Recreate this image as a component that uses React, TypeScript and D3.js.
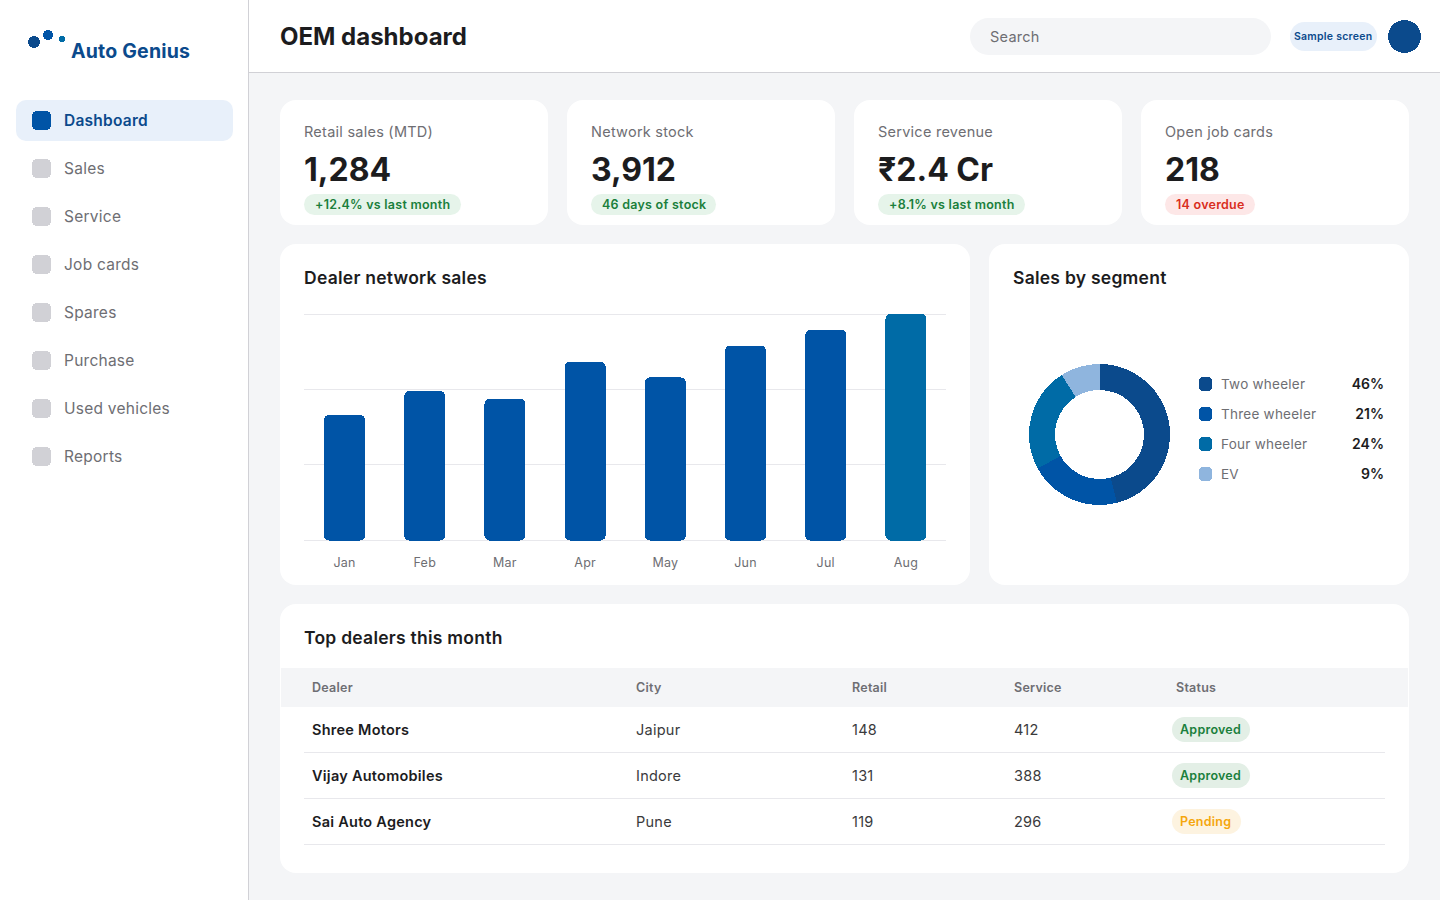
import * as d3 from "d3";

const navItems = ["Dashboard", "Sales", "Service", "Job cards", "Spares", "Purchase", "Used vehicles", "Reports"];

const kpiLabels = ["Retail sales (MTD)", "Network stock", "Service revenue", "Open job cards"];
const kpiValues = ["1,284", "3,912", "₹2.4 Cr", "218"];
const kpiNotes = ["+12.4% vs last month", "46 days of stock", "+8.1% vs last month", "14 overdue"];
const kpiNoteWidths = [157, 125, 147, 90];
const kpiNoteBad = [false, false, false, true];

const months = ["Jan", "Feb", "Mar", "Apr", "May", "Jun", "Jul", "Aug"];
const monthSales = [55.5, 66, 62.5, 79, 72, 86, 93, 100];
const gridTicks = [0, 33.5, 66.6, 100];

const segments = ["Two wheeler", "Three wheeler", "Four wheeler", "EV"];
const segmentShare = [46, 21, 24, 9];
const segmentColors = ["#0b4a8c", "#0054a6", "#006ba6", "#8fb5de"];

const tableHeads = ["Dealer", "City", "Retail", "Service", "Status"];
const dealers = ["Shree Motors", "Vijay Automobiles", "Sai Auto Agency"];
const cities = ["Jaipur", "Indore", "Pune"];
const retail = [148, 131, 119];
const service = [412, 388, 296];
const statuses = ["Approved", "Approved", "Pending"];

const ink = "#1c1c1e";
const gray = "#6e6e73";
const navy = "#0b4a8c";
const blue = "#0054a6";
const pageBg = "#f4f5f7";
const line = "#e8e8ec";
const font = "Inter, sans-serif";
const spacing = 0.25;

const x = d3.scaleBand<string>().domain(months).range([304, 946.5]).paddingInner(0.489).paddingOuter(0.25);
const y = d3.scaleLinear().domain([0, 100]).range([540.5, 314]);

const pieGen = d3.pie<number>().sort(null).value((d) => d);
const arcGen = d3.arc<d3.PieArcDatum<number>>().innerRadius(44.5).outerRadius(70.5);

const columnX = [312, 636, 852, 1014, 1176];
const rowY = [729.5, 775.5, 821.5];

function Card({ px, py, w, h }: { px: number; py: number; w: number; h: number }) {
  return <rect x={px} y={py} width={w} height={h} rx={16} fill="#fff" />;
}

export default function App() {
  return (
    <svg
      width={1440}
      height={900}
      viewBox="0 0 1440 900"
      fontFamily={font}
      textRendering="optimizeSpeed"
      style={{ position: "fixed", left: 0, top: 0, display: "block" }}
    >
      <rect width={1440} height={900} fill={pageBg} />

      {/* sidebar */}
      <rect width={248} height={900} fill="#fff" />
      <rect x={248} width={1} height={900} fill="#d1d1d6" />
      <circle cx={34} cy={42} r={6} fill={navy} shapeRendering="crispEdges" />
      <circle cx={48} cy={35} r={5} fill={blue} shapeRendering="crispEdges" />
      <circle cx={62} cy={39} r={3} fill="#006ba6" shapeRendering="crispEdges" />
      <text x={71} y={58} fontSize={19.5} fontWeight={700} letterSpacing={0.2} fill={navy}>Auto Genius</text>
      <rect x={16} y={100} width={217} height={41} rx={10} fill="#e8f0fa" />
      {navItems.map((item, i) => (
        <g key={item} transform={`translate(0,${48 * i})`}>
          <rect x={32} y={111} width={19} height={19} rx={5} fill={i === 0 ? blue : "#d1d1d6"} shapeRendering="crispEdges" />
          <text x={64} y={126} fontSize={15.5} letterSpacing={spacing} fontWeight={i === 0 ? 600 : 400} fill={i === 0 ? navy : gray}>{item}</text>
        </g>
      ))}

      {/* top bar */}
      <rect x={249} width={1191} height={72} fill="#fff" />
      <rect x={249} y={72} width={1191} height={1} fill="#d1d1d6" />
      <text x={280} y={45} fontSize={24} fontWeight={700} fill={ink}>OEM dashboard</text>
      <rect x={970} y={18} width={301} height={37} rx={18.5} fill={pageBg} />
      <text x={990} y={42} fontSize={14.5} letterSpacing={spacing} fill={gray}>Search</text>
      <rect x={1290} y={22} width={87} height={29} rx={14.5} fill="#e8f0fa" />
      <text x={1294} y={40} fontSize={10.5} letterSpacing={spacing} fontWeight={600} fill={navy}>Sample screen</text>
      <circle cx={1404.5} cy={36.5} r={16.5} fill={navy} shapeRendering="crispEdges" />

      {/* kpi cards */}
      {kpiLabels.map((label, i) => {
        const left = [280, 567, 854, 1141][i];
        const bad = kpiNoteBad[i];
        return (
          <g key={label}>
            <Card px={left} py={100} w={268} h={125} />
            <text x={left + 24} y={137} fontSize={14.5} letterSpacing={spacing} fill={gray}>{label}</text>
            <text x={left + 24} y={181} fontSize={32} fontWeight={700} fill={ink}>{kpiValues[i]}</text>
            <rect x={left + 24} y={194} width={kpiNoteWidths[i]} height={21} rx={10.5} fill={bad ? "#fde7e7" : "#e6f4ea"} />
            <text x={left + 35} y={209} fontSize={12.5} letterSpacing={spacing} fontWeight={600} fill={bad ? "#d92d20" : "#1a7f3c"}>{kpiNotes[i]}</text>
          </g>
        );
      })}

      {/* bar chart */}
      <Card px={280} py={244} w={690} h={341} />
      <text x={304} y={284} fontSize={17.5} letterSpacing={spacing} fontWeight={600} fill={ink}>Dealer network sales</text>
      {gridTicks.map((t) => (
        <rect key={t} x={304} y={Math.floor(y(t))} width={642} height={1} fill={line} />
      ))}
      {months.map((m, i) => (
        <g key={m}>
          <rect
            x={x(m)}
            y={y(monthSales[i])}
            width={x.bandwidth()}
            height={y(0) - y(monthSales[i])}
            rx={5}
            fill={i === months.length - 1 ? "#006ba6" : blue}
            shapeRendering="crispEdges"
          />
          <text x={x(m)! + x.bandwidth() / 2} y={567} fontSize={12.5} letterSpacing={spacing} textAnchor="middle" fill={gray}>{m}</text>
        </g>
      ))}

      {/* donut */}
      <Card px={989} py={244} w={420} h={341} />
      <text x={1013} y={284} fontSize={17.5} letterSpacing={spacing} fontWeight={600} fill={ink}>Sales by segment</text>
      <g transform="translate(1099.5,434.5)">
        {pieGen(segmentShare).map((d, i) => (
          <path key={segments[i]} d={arcGen(d)!} fill={segmentColors[i]} shapeRendering="crispEdges" />
        ))}
      </g>
      {segments.map((s, i) => (
        <g key={s} transform={`translate(0,${30 * i})`}>
          <rect x={1199} y={377} width={13} height={14} rx={4} fill={segmentColors[i]} shapeRendering="crispEdges" />
          <text x={1221} y={389} fontSize={13.5} letterSpacing={spacing} fill={gray}>{s}</text>
          <text x={1384} y={389} fontSize={14} fontWeight={600} textAnchor="end" fill={ink}>{segmentShare[i]}%</text>
        </g>
      ))}

      {/* table */}
      <Card px={280} py={604} w={1129} h={269} />
      <text x={304} y={644} fontSize={17.5} letterSpacing={spacing} fontWeight={600} fill={ink}>Top dealers this month</text>
      <rect x={281} y={668} width={1127} height={39} fill={pageBg} />
      {tableHeads.map((h, i) => (
        <text key={h} x={columnX[i]} y={692} fontSize={12.5} letterSpacing={spacing} fontWeight={600} fill={gray}>{h}</text>
      ))}
      {dealers.map((d, i) => {
        const ok = statuses[i] === "Approved";
        return (
          <g key={d}>
            <text x={columnX[0]} y={rowY[i] + 5.5} fontSize={14.5} letterSpacing={spacing} fontWeight={600} fill={ink}>{d}</text>
            <text x={columnX[1]} y={rowY[i] + 5.5} fontSize={14.5} letterSpacing={spacing} fill="#3a3a3c">{cities[i]}</text>
            <text x={columnX[2]} y={rowY[i] + 5.5} fontSize={14.5} letterSpacing={spacing} fill="#3a3a3c">{retail[i]}</text>
            <text x={columnX[3]} y={rowY[i] + 5.5} fontSize={14.5} letterSpacing={spacing} fill="#3a3a3c">{service[i]}</text>
            <rect x={1172} y={rowY[i] - 12.5} width={ok ? 78 : 69} height={25} rx={12.5} fill={ok ? "#e3efe6" : "#fdf3e0"} />
            <text x={1180} y={rowY[i] + 4.5} fontSize={12.5} letterSpacing={spacing} fontWeight={600} fill={ok ? "#1a7f3c" : "#f5a60c"}>{statuses[i]}</text>
            <rect x={304} y={rowY[i] + 22.5} width={1081} height={1} fill={line} />
          </g>
        );
      })}
    </svg>
  );
}
